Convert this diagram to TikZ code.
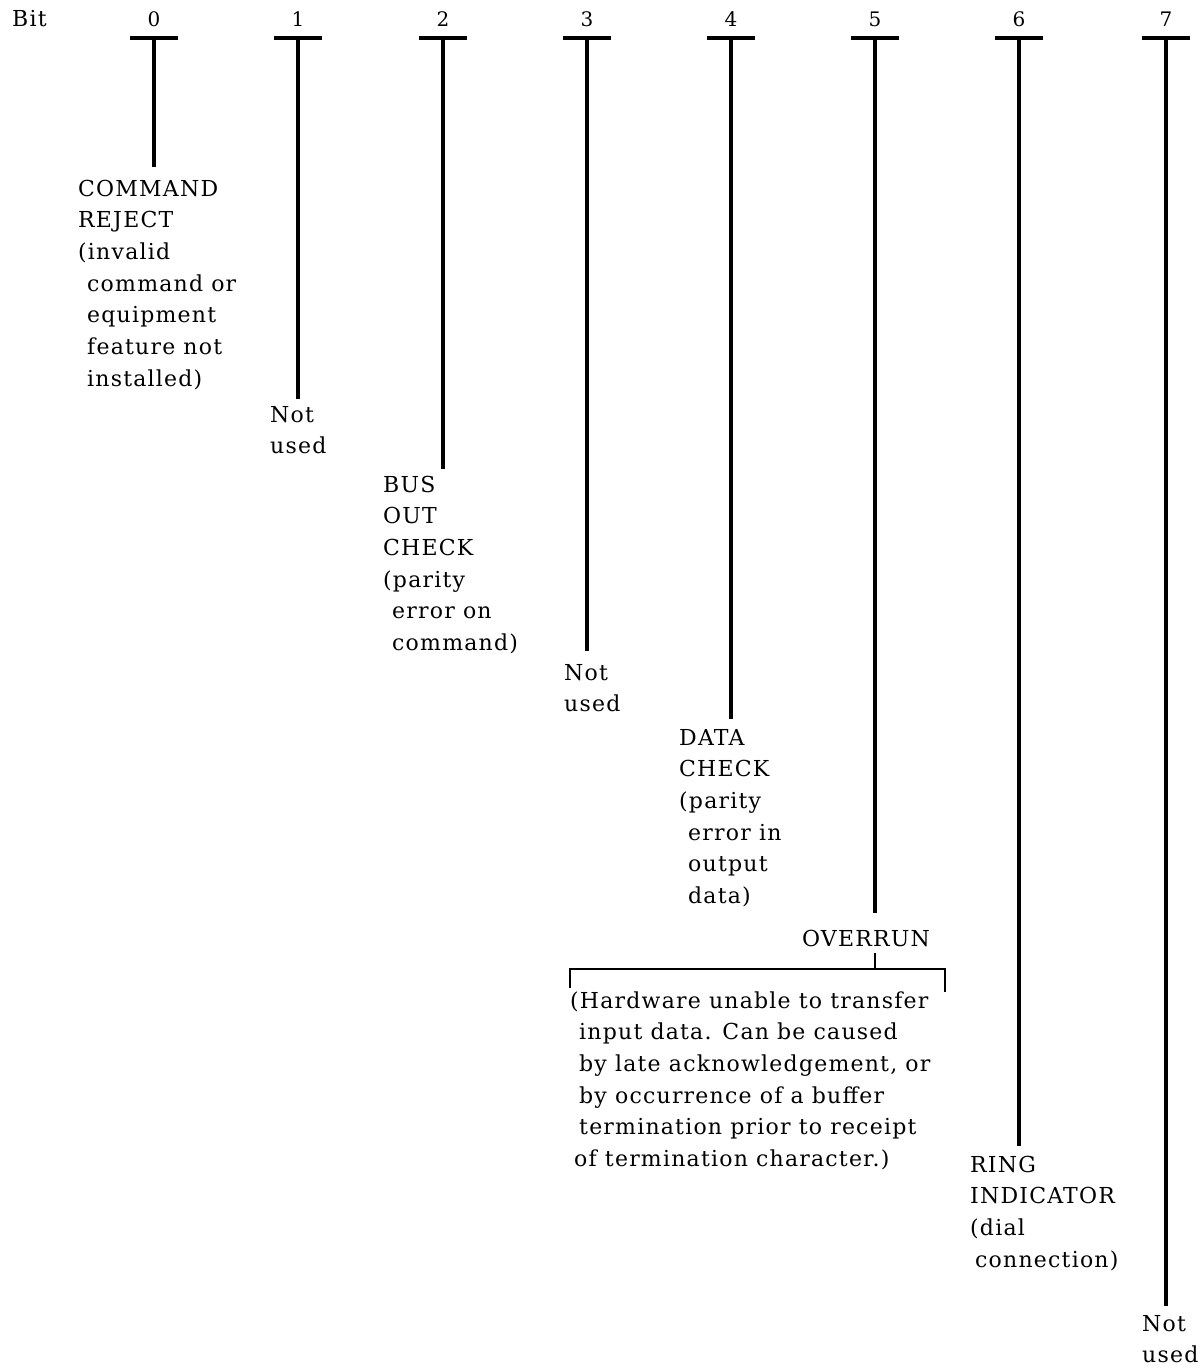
\documentclass[tikz,border=0pt]{standalone}
\usepackage{fontspec}
\setmainfont{DejaVu Serif}[LetterSpace=5.5]
\newcommand\blk[1]{\begin{tabular}[t]{@{}l@{}}#1\end{tabular}}
\begin{document}
\begin{tikzpicture}[x=1pt,y=-1pt,
  bar/.style={line width=3.2pt},
  stem/.style={line width=3.2pt},
  brk/.style={line width=2.4pt},
  lbl/.style={inner sep=0pt, anchor=base west, font=\fontsize{22}{31.7}\selectfont},
  num/.style={inner sep=0pt, anchor=base, font=\fontsize{20}{24}\selectfont}]
\useasboundingbox (0,0) rectangle (1201,1369);
\node[lbl] (bit) at (12,26) {Bit};
\foreach \i/\x/\e in {0/154/167,1/298/399,2/443/469,3/587/651,4/731/719,5/875/913,6/1019/1146,7/1166/1306} {
  \node[num] (n\i) at (\x,26) {\i};
  \coordinate (tl\i) at (\x-24,38);
  \coordinate (tr\i) at (\x+24,38);
  \coordinate (t\i) at (\x,38);
  \coordinate (e\i) at (\x,\e);
  \draw[bar] (tl\i) -- (tr\i);
  \draw[stem] (t\i) -- (e\i);
}
\node[lbl] (b0) at (78,196) {\blk{COMMAND\\REJECT\\(invalid\\\hspace*{9pt}command or\\\hspace*{9pt}equipment\\\hspace*{9pt}feature not\\\hspace*{9pt}installed)}};
\node[lbl] (b1) at (270,422) {\blk{Not\\used}};
\node[lbl] (b2) at (383,492) {\blk{BUS\\OUT\\CHECK\\(parity\\\hspace*{9pt}error on\\\hspace*{9pt}command)}};
\node[lbl] (b3) at (564,680) {\blk{Not\\used}};
\node[lbl] (b4) at (679,745) {\blk{DATA\\CHECK\\(parity\\\hspace*{9pt}error in\\\hspace*{9pt}output\\\hspace*{9pt}data)}};
\node[lbl, anchor=base] (ov) at (866,946) {OVERRUN};
\coordinate (k5a) at (875,953);
\coordinate (k5b) at (875,969);
\draw[brk] (k5a) -- (k5b);
\coordinate (bl) at (570,988);
\coordinate (blt) at (570,969);
\coordinate (brt) at (945,969);
\coordinate (br) at (945,992);
\draw[brk] (bl) -- (blt) -- (brt) -- (br);
\node[lbl] (b5) at (570,1008) {\blk{(Hardware unable to transfer\\\hspace*{9pt}input data. Can be caused\\\hspace*{9pt}by late acknowledgement, or\\\hspace*{9pt}by occurrence of a buffer\\\hspace*{9pt}termination prior to receipt\\\hspace*{4pt}of termination character.)}};
\node[lbl] (b6) at (970,1172) {\blk{RING\\INDICATOR\\(dial\\\hspace*{5pt}connection)}};
\node[lbl] (b7) at (1142,1331) {\blk{Not\\used}};
\end{tikzpicture}
\end{document}
